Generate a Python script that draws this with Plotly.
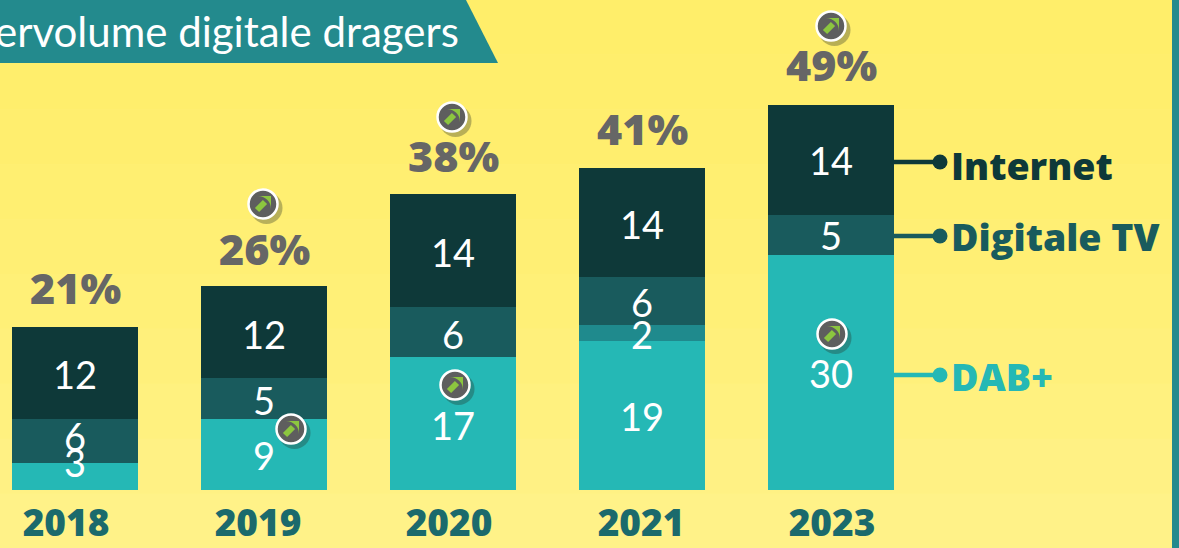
import plotly.graph_objects as go

years = ["2018", "2019", "2020", "2021", "2023"]
dab = [3.45, 9.1, 17.05, 19.1, 30.1]
extra = [None, None, None, 2.05, None]
digitale_tv = [5.65, 5.25, 6.4, 6.15, 5.1]
internet = [11.8, 11.8, 14.5, 14.0, 14.1]

dab_labels = ["3", "9", "17", "19", "30"]
extra_labels = [None, None, None, "2", None]
tv_labels = ["6", "5", "6", "6", "5"]
internet_labels = ["12", "12", "14", "14", "14"]
totals = ["21%", "26%", "38%", "41%", "49%"]
title_text = "ervolume digitale dragers"
legend_names = ["Internet", "Digitale TV", "DAB+"]

W, H, BOTTOM = 1179, 548, 490
PXU = 7.8
def X(px): return (px - 75) / 189
def Y(py): return (BOTTOM - py) / PXU
def XP(px): return px / W
def YP(py): return (BOTTOM - py) / BOTTOM

C_DAB, C_EXTRA, C_TV, C_NET = "#25B8B5", "#1F8A8D", "#195B5D", "#0E3939"
FONT = "Lato"
BOLD = "Open Sans"
xs = list(range(len(years)))

fig = go.Figure()
for name, vals, col in [("DAB+", dab, C_DAB), ("Overig", extra, C_EXTRA),
                        ("Digitale TV", digitale_tv, C_TV), ("Internet", internet, C_NET)]:
    fig.add_bar(x=xs, y=vals, name=name, marker=dict(color=col, line=dict(width=0)),
                width=126 / 189, hoverinfo="skip")

# connector lines to legend labels
conn = [(162, C_NET), (236, C_TV), (375, C_DAB)]
for py, col in conn:
    fig.add_scatter(x=[X(894), X(940)], y=[Y(py), Y(py)], mode="lines+markers",
                    line=dict(color=col, width=4.5),
                    marker=dict(size=[0, 15], color=col, opacity=1, line=dict(width=0)),
                    hoverinfo="skip", showlegend=False)

# icons
icons = [(263, 204), (452, 117), (831, 26), (832, 334), (455, 385), (291, 429)]
ix = [X(p[0]) for p in icons]
iy = [Y(p[1]) for p in icons]
fig.add_scatter(x=[X(p[0] + 3.5) for p in icons], y=[Y(p[1] + 4) for p in icons], mode="markers",
                marker=dict(size=32, color="rgba(40,50,40,0.33)", line=dict(width=0)),
                hoverinfo="skip", showlegend=False)
fig.add_scatter(x=ix, y=iy, mode="markers",
                marker=dict(size=29, color="#5E5E5E", line=dict(color="white", width=2.5)),
                hoverinfo="skip", showlegend=False)
fig.add_scatter(x=[X(p[0] - 2) for p in icons], y=[Y(p[1] + 2) for p in icons], mode="markers",
                marker=dict(size=8, symbol="line-ne", color="#8CC63F",
                            line=dict(color="#8CC63F", width=6)),
                hoverinfo="skip", showlegend=False)
fig.add_scatter(x=[X(p[0] + 8) for p in icons], y=[Y(p[1] - 8) for p in icons], mode="markers",
                marker=dict(size=13, symbol="arrow-wide", angle=45, color="#8CC63F", line=dict(width=0)),
                hoverinfo="skip", showlegend=False)

ann = []
def text(px, py, t, size, color, weight=400, anchor="center", family=FONT):
    ann.append(dict(x=X(px), y=Y(py), xref="x", yref="y", text=t, showarrow=False,
                    xanchor=anchor, yanchor="middle",
                    font=dict(family=family, size=size, color=color, weight=weight)))

centers = [75, 264, 453, 642, 831]
for labels, ys in [(dab_labels, [462, 455, 425, 416, 373]),
                   (extra_labels, [None, None, None, 334, None]),
                   (tv_labels, [436, 400, 334, 302, 235]),
                   (internet_labels, [374, 334, 252, 224, 160])]:
    for c, l, py in zip(centers, labels, ys):
        if l:
            text(c, py, l, 38, "white")
for c, t, py in zip(centers, totals, [287, 248, 155, 128, 64]):
    text(c, py, t, 43, "#666666", 800, family=BOLD)
for name, py, col in zip(legend_names, [165, 236, 376], [C_NET, C_TV, C_DAB]):
    text(949, py, name, 37.5, col, 800, "left", family=BOLD)
text(461, 31, title_text, 42, "white", 400, "right")

# background bands, banner, right edge
bg = ["#FFEE6A", "#FFEE6C", "#FFEE6E", "#FFEF71", "#FFEF74", "#FFF077", "#FFF07B", "#FFF17F", "#FFF184", "#FFF288"]
shapes = []
for i, col in enumerate(bg):
    shapes.append(dict(type="rect", xref="paper", yref="paper", layer="below",
                       x0=0, x1=1, y0=YP(H * (i + 1) / len(bg)), y1=YP(H * i / len(bg)),
                       fillcolor=col, line=dict(width=0)))
shapes.append(dict(type="path", xref="paper", yref="paper", layer="below",
                   path=f"M 0 {YP(0)} L {XP(466)} {YP(0)} L {XP(498)} {YP(63)} L 0 {YP(63)} Z",
                   fillcolor="#238A8D", line=dict(width=0)))
shapes.append(dict(type="rect", xref="paper", yref="paper", layer="below",
                   x0=XP(1172), x1=1, y0=YP(H), y1=YP(0), fillcolor="#238A8D", line=dict(width=0)))

tick_pos = [X(66), X(258), X(449), X(641), X(832)]
fig.update_layout(
    width=W, height=H, barmode="stack", showlegend=False, hovermode=False,
    margin=dict(l=0, r=0, t=0, b=H - BOTTOM),
    paper_bgcolor="#FFF07B", plot_bgcolor="rgba(0,0,0,0)",
    annotations=ann, shapes=shapes,
    xaxis=dict(range=[X(0), X(W)], tickmode="array", tickvals=tick_pos, ticktext=years,
               showgrid=False, zeroline=False, showline=False, ticks="", ticklabelstandoff=8,
               tickfont=dict(family=BOLD, size=37, color="#1B6A6C", weight=800)),
    yaxis=dict(range=[0, BOTTOM / PXU], visible=False, showgrid=False, zeroline=False),
)
fig.write_html("out.html", config=dict(displayModeBar=False),
               post_script="document.body.style.margin='0';document.body.style.overflow='hidden';")
